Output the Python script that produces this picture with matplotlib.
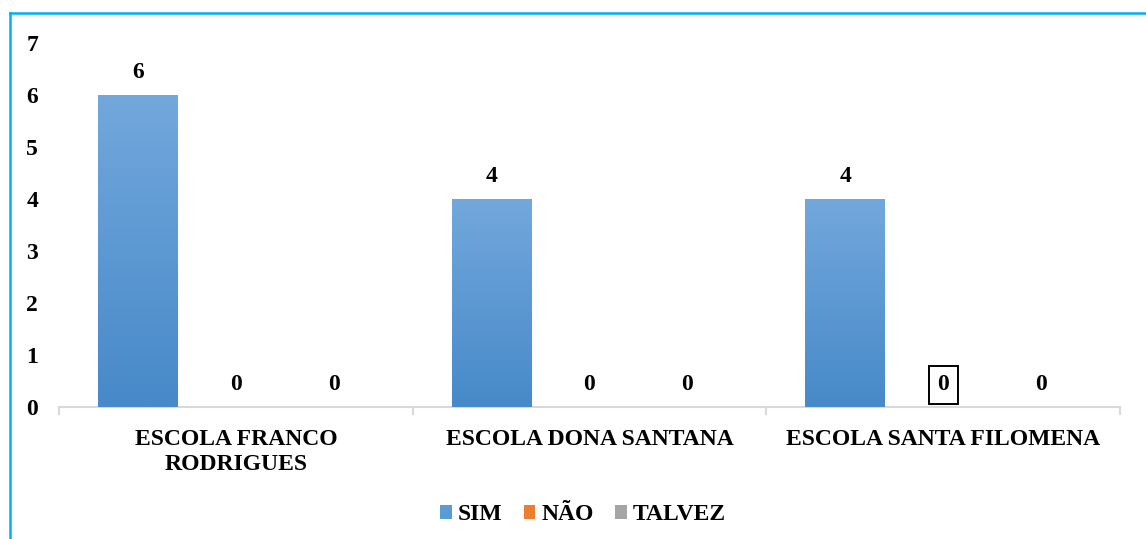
import numpy as np
import matplotlib
matplotlib.use("Agg")
import matplotlib.pyplot as plt
from matplotlib.colors import LinearSegmentedColormap
from matplotlib.lines import Line2D
from matplotlib.patches import Patch

categories = ["ESCOLA FRANCO\nRODRIGUES", "ESCOLA DONA SANTANA", "ESCOLA SANTA FILOMENA"]
series_names = ["SIM", "NÃO", "TALVEZ"]
sim = [6, 4, 4]
nao = [0, 0, 0]
talvez = [0, 0, 0]
y_ticks = [0, 1, 2, 3, 4, 5, 6, 7]

series_values = [sim, nao, talvez]
series_colors = [("#72A8DC", "#4789C9"), ("#F4934F", "#E46C1B"), ("#B5B5B5", "#8F8F8F")]
legend_colors = ["#5B9BD5", "#ED7D31", "#A5A5A5"]

plt.rcParams["font.family"] = ["Liberation Serif", "DejaVu Serif"]
plt.rcParams["font.weight"] = "bold"

W, H = 1146, 539
fig = plt.figure(figsize=(W / 100, H / 100), dpi=100)
ax = fig.add_axes([59 / W, 1 - 407 / H, (1120 - 59) / W, (407 - 43) / H])

x = np.arange(len(categories))
bar_w = 0.226
step = 0.277
fs = 17

for i, (vals, (c_top, c_bot)) in enumerate(zip(series_values, series_colors)):
    offs = (i - 1) * step
    bars = ax.bar(x + offs, vals, width=bar_w, color=c_bot, edgecolor="none", zorder=2)
    cmap = LinearSegmentedColormap.from_list("g%d" % i, [c_bot, c_top])
    grad = np.linspace(0, 1, 256).reshape(-1, 1)
    for b, v in zip(bars, vals):
        if v <= 0:
            continue
        im = ax.imshow(grad, cmap=cmap, origin="lower", aspect="auto",
                       extent=[b.get_x(), b.get_x() + b.get_width(), 0, v], zorder=3)
        im.set_clip_path(b)
    for j, v in enumerate(vals):
        boxed = (i == 1 and j == 2)
        ax.annotate(str(v), (x[j] + offs, v), xytext=(0, 16), textcoords="offset points",
                    ha="center", va="center", fontsize=fs, fontweight="bold",
                    bbox=dict(boxstyle="square,pad=0.36", fc="none", ec="black", lw=1.4) if boxed else None,
                    zorder=5)

ax.set_xlim(-0.5, len(categories) - 0.5)
ax.set_ylim(0, 7)
ax.set_yticks(y_ticks)
ax.set_yticklabels([str(t) for t in y_ticks], fontsize=fs, fontweight="bold")
ax.tick_params(axis="y", length=0, pad=15)

ax.set_xticks(x)
ax.set_xticklabels(categories, fontsize=fs, fontweight="bold", linespacing=1.25)
ax.tick_params(axis="x", length=0, pad=16)
for xb in np.arange(-0.5, len(categories), 1.0):
    ax.plot([xb, xb], [0, -0.13], color="#D9D9D9", lw=1.5, clip_on=False, zorder=1)

for s in ["top", "right", "left"]:
    ax.spines[s].set_visible(False)
ax.spines["bottom"].set_color("#D9D9D9")
ax.spines["bottom"].set_linewidth(1.5)

handles = [Patch(facecolor=c, edgecolor="none") for c in legend_colors]
fig.legend(handles, series_names, loc="center", bbox_to_anchor=(583 / W, 1 - 515 / H),
           ncol=3, frameon=False, prop={"weight": "bold", "size": fs},
           handlelength=0.5, handleheight=0.5, handletextpad=0.25, columnspacing=0.9)

# chart area outline
fig.add_artist(Line2D([10 / W, 10 / W], [1 - 13 / H, 0], color="#00B0F0", lw=1.8,
                      transform=fig.transFigure))
fig.add_artist(Line2D([10 / W, 1], [1 - 13 / H, 1 - 13 / H], color="#00B0F0", lw=1.8,
                      transform=fig.transFigure))

fig.savefig("out.png", dpi=100)
